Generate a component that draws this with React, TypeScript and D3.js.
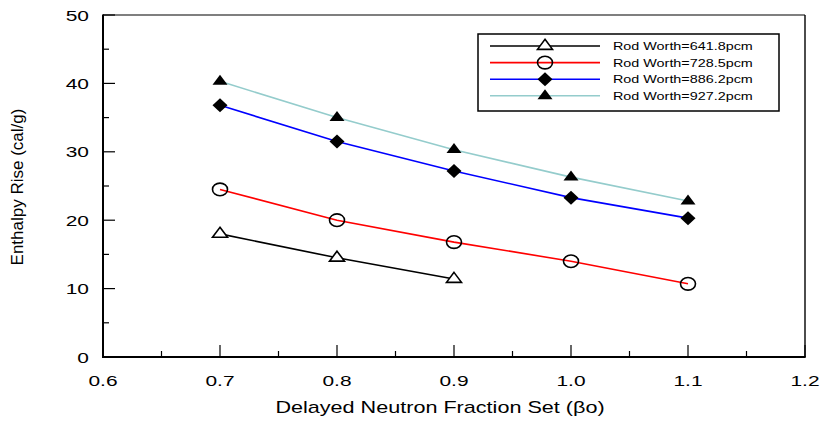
import React from "react";
import * as d3 from "d3";

// Delayed neutron fraction sets (x) and enthalpy rise (cal/g) per rod worth
const xTicks = [0.6, 0.7, 0.8, 0.9, 1.0, 1.1, 1.2];
const yTicks = [0, 10, 20, 30, 40, 50];

const betaA = [0.7, 0.8, 0.9];
const rise641 = [18.0, 14.5, 11.4];

const betaB = [0.7, 0.8, 0.9, 1.0, 1.1];
const rise728 = [24.5, 20.0, 16.8, 14.0, 10.7];
const rise886 = [36.8, 31.5, 27.2, 23.3, 20.3];
const rise927 = [40.3, 35.0, 30.3, 26.3, 22.8];

const seriesNames = [
  "Rod Worth=641.8pcm",
  "Rod Worth=728.5pcm",
  "Rod Worth=886.2pcm",
  "Rod Worth=927.2pcm",
];
const seriesColors = ["#000000", "#ff0000", "#0000ff", "#94cccc"];
const seriesMarkers = ["triangleOpen", "circleOpen", "diamond", "triangle"];

const W = 826;
const H = 428;
const left = 103;
const right = 805;
const top = 15;
const bottom = 357;

const font = "Arial, 'Liberation Sans', Helvetica, sans-serif";

function Marker({ kind, x, y }: { kind: string; x: number; y: number }) {
  if (kind === "circleOpen") {
    return <ellipse cx={x} cy={y} rx={7.5} ry={6.3} fill="none" stroke="#000" strokeWidth={1.6} />;
  }
  if (kind === "diamond") {
    const w = 7.5, h = 7;
    return (
      <path d={`M${x},${y - h}L${x + w},${y}L${x},${y + h}L${x - w},${y}Z`} fill="#000" />
    );
  }
  // triangle centred on its centroid
  const hw = 7.5, ht = 10;
  const d = `M${x},${y - (2 * ht) / 3}L${x + hw},${y + ht / 3}L${x - hw},${y + ht / 3}Z`;
  if (kind === "triangleOpen") {
    return <path d={d} fill="#fff" stroke="#000" strokeWidth={1.6} strokeLinejoin="miter" />;
  }
  return <path d={d} fill="#000" />;
}

function Txt({ x, y, anchor, size, sx = 1.35, children }: any) {
  return (
    <g transform={`translate(${x},${y}) scale(${sx},1)`}>
      <text x={0} y={0} textAnchor={anchor} fontSize={size} fontFamily={font} fill="#000">
        {children}
      </text>
    </g>
  );
}

export default function App() {
  const x = d3.scaleLinear().domain([0.6, 1.2]).range([left, right]);
  const y = d3.scaleLinear().domain([0, 50]).range([bottom, top]);

  const series = [
    { xs: betaA, ys: rise641 },
    { xs: betaB, ys: rise728 },
    { xs: betaB, ys: rise886 },
    { xs: betaB, ys: rise927 },
  ];

  const line = d3
    .line<[number, number]>()
    .x((d) => x(d[0]))
    .y((d) => y(d[1]));

  const xMinor = d3.range(0.65, 1.2, 0.1);
  const yMinor = d3.range(5, 50, 10);

  return (
    <svg width={W} height={H} style={{ position: "absolute", left: 0, top: 0, background: "#fff" }}>
      <rect x={0} y={0} width={W} height={H} fill="#fff" />

      {/* frame */}
      <line x1={left} y1={top} x2={right} y2={top} stroke="#000" strokeWidth={1.2} />
      <line x1={right} y1={top} x2={right} y2={bottom} stroke="#000" strokeWidth={1.4} />
      <line x1={left} y1={top - 0.5} x2={left} y2={bottom + 1} stroke="#000" strokeWidth={2} />
      <line x1={left - 1} y1={bottom} x2={right + 0.7} y2={bottom} stroke="#000" strokeWidth={2} />

      {/* ticks */}
      {xTicks.map((t) => (
        <line key={"xt" + t} x1={x(t)} x2={x(t)} y1={bottom} y2={bottom - 12} stroke="#000" strokeWidth={1.2} />
      ))}
      {xMinor.map((t) => (
        <line key={"xm" + t} x1={x(t)} x2={x(t)} y1={bottom} y2={bottom - 6} stroke="#000" strokeWidth={1.2} />
      ))}
      {yTicks.map((t) => (
        <line key={"yt" + t} x1={left} x2={left + 12} y1={y(t)} y2={y(t)} stroke="#000" strokeWidth={1.2} />
      ))}
      {yMinor.map((t) => (
        <line key={"ym" + t} x1={left} x2={left + 6} y1={y(t)} y2={y(t)} stroke="#000" strokeWidth={1.2} />
      ))}

      {/* tick labels */}
      {xTicks.map((t) => (
        <Txt key={"xl" + t} x={x(t)} y={386} anchor="middle" size={15.5}>
          {t.toFixed(1)}
        </Txt>
      ))}
      {yTicks.map((t) => (
        <Txt key={"yl" + t} x={89} y={y(t) + 5.5} anchor="end" size={15.5}>
          {String(t)}
        </Txt>
      ))}

      {/* axis titles */}
      <Txt x={440} y={413} anchor="middle" size={16}>
        Delayed Neutron Fraction Set (βo)
      </Txt>
      <text
        transform={`translate(23,187) rotate(-90)`}
        textAnchor="middle"
        fontSize={17}
        fontFamily={font}
        fill="#000"
      >
        Enthalpy Rise (cal/g)
      </text>

      {/* series */}
      {series.map((s, i) => {
        const pts = s.xs.map((v, j) => [v, s.ys[j]] as [number, number]);
        return (
          <g key={"s" + i}>
            <path d={line(pts) || ""} fill="none" stroke={seriesColors[i]} strokeWidth={1.6} />
            {pts.map((p, j) => (
              <Marker key={j} kind={seriesMarkers[i]} x={x(p[0])} y={y(p[1])} />
            ))}
          </g>
        );
      })}

      {/* legend */}
      <rect x={478} y={34} width={301} height={77} fill="#fff" stroke="#000" strokeWidth={1.5} />
      {seriesNames.map((name, i) => {
        const ly = 46 + i * 16.6;
        return (
          <g key={"lg" + i}>
            <line x1={490} x2={600} y1={ly} y2={ly} stroke={seriesColors[i]} strokeWidth={1.6} />
            <Marker kind={seriesMarkers[i]} x={545} y={ly} />
            <Txt x={613} y={ly + 4} anchor="start" size={11.5} sx={1.25}>
              {name}
            </Txt>
          </g>
        );
      })}
    </svg>
  );
}
